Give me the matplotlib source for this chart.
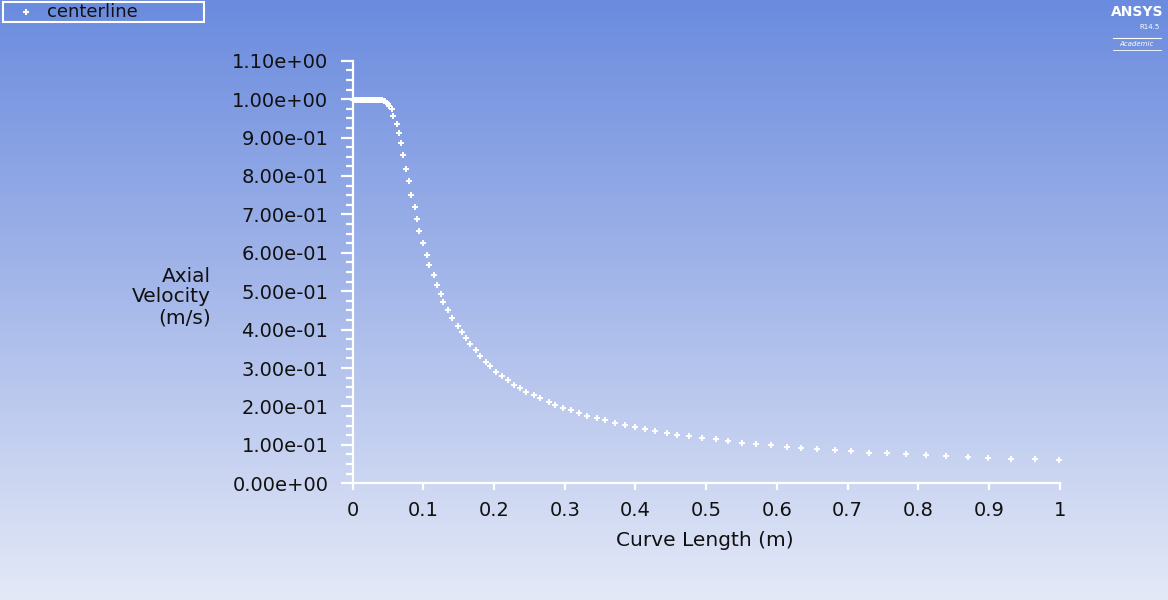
import numpy as np
import matplotlib
matplotlib.use("Agg")
import matplotlib.pyplot as plt
from matplotlib.patches import Rectangle
from matplotlib.colors import LinearSegmentedColormap
from matplotlib.ticker import MultipleLocator, FormatStrFormatter

plt.rcParams["font.family"] = ["DejaVu Sans"]

# centerline data
curve_length = [
    0.000, 0.002, 0.004, 0.006, 0.008, 0.010, 0.012, 0.014, 0.016, 0.018,
    0.020, 0.022, 0.024, 0.026, 0.028, 0.030, 0.032, 0.034, 0.036, 0.038,
    0.040, 0.042, 0.044, 0.046, 0.048, 0.050, 0.052, 0.055,
    0.0574, 0.0631, 0.0659, 0.0687, 0.0716, 0.0747, 0.0801, 0.0829, 0.0888, 0.0914,
    0.0942, 0.1001, 0.1055, 0.1083, 0.1143, 0.1197, 0.1253, 0.1281, 0.1344, 0.1400,
    0.1485, 0.1542, 0.1598, 0.1655, 0.1744, 0.1801, 0.1885, 0.1942, 0.2027, 0.2112,
    0.2197, 0.2286, 0.2371, 0.2455, 0.2569, 0.2653, 0.2772, 0.2857, 0.2970, 0.3083,
    0.3197, 0.3310, 0.3451, 0.3569, 0.3710, 0.3851, 0.3993, 0.4134, 0.4276, 0.4450,
    0.4594, 0.4761, 0.4936, 0.5139, 0.5313, 0.5511, 0.5704, 0.5912, 0.6139, 0.6337,
    0.6563, 0.6822, 0.7048, 0.7303, 0.7562, 0.7822, 0.8105, 0.8392, 0.8707, 0.8990,
    0.9307, 0.9651, 0.9994,
]
axial_velocity = [
    0.998, 0.998, 0.998, 0.998, 0.998, 0.998, 0.998, 0.998, 0.998, 0.998,
    0.998, 0.998, 0.998, 0.998, 0.998, 0.998, 0.998, 0.998, 0.998, 0.998,
    0.998, 0.997, 0.996, 0.994, 0.991, 0.987, 0.982, 0.974,
    0.957, 0.936, 0.912, 0.886, 0.855, 0.818, 0.786, 0.751, 0.718, 0.688,
    0.656, 0.625, 0.594, 0.567, 0.541, 0.515, 0.494, 0.472, 0.452, 0.431,
    0.409, 0.394, 0.378, 0.362, 0.346, 0.331, 0.315, 0.305, 0.290, 0.279,
    0.268, 0.257, 0.247, 0.237, 0.230, 0.221, 0.211, 0.205, 0.196, 0.190,
    0.184, 0.175, 0.169, 0.164, 0.157, 0.152, 0.147, 0.142, 0.137, 0.132,
    0.127, 0.122, 0.118, 0.115, 0.111, 0.106, 0.102, 0.099, 0.095, 0.092,
    0.089, 0.086, 0.083, 0.080, 0.078, 0.075, 0.073, 0.070, 0.068, 0.066,
    0.064, 0.062, 0.060,
]

W, H = 1168, 600
fig = plt.figure(figsize=(W / 100, H / 100), dpi=100)

# background gradient + decorations in pixel coordinates
bg = fig.add_axes([0, 0, 1, 1])
cmap = LinearSegmentedColormap.from_list("bg", ["#6a8bde", "#a7b9ea", "#e4e9f7"])
grad = np.linspace(0, 1, 256).reshape(-1, 1)
bg.imshow(grad, cmap=cmap, aspect="auto", extent=[0, W, H, 0])
bg.set_xlim(0, W)
bg.set_ylim(H, 0)
bg.axis("off")

# legend box
bg.add_patch(Rectangle((3, 2), 201, 20, fill=False, edgecolor="white", linewidth=1.5))
bg.plot([26], [12], marker="+", color="white", markersize=4.5, markeredgewidth=1.5)
bg.text(47, 12, "centerline", fontsize=13, color="#111111", va="center", ha="left")

# logo
bg.text(1137, 12, "ANSYS", fontsize=10, fontweight="bold", color="white", ha="center", va="center")
bg.text(1150, 27, "R14.5", fontsize=5, color="white", ha="center", va="center")
bg.text(1137, 44, "Academic", fontsize=5, color="white", ha="center", va="center", style="italic")
bg.plot([1113, 1161], [38, 38], color="white", linewidth=0.8)
bg.plot([1113, 1161], [50, 50], color="white", linewidth=0.6)

# axis labels
bg.text(211, 297, "Axial\nVelocity\n(m/s)", fontsize=14.5, color="#111111", ha="right",
        va="center", multialignment="right", linespacing=1.1)
bg.text(705, 541, "Curve Length (m)", fontsize=14.5, color="#111111", ha="center", va="center")

# main plot
ax = fig.add_axes([352.7 / W, 1 - 483.3 / H, 707 / W, 422.6 / H])
ax.patch.set_alpha(0)
ax.plot(curve_length, axial_velocity, linestyle="none", marker="+", color="white",
        markersize=4.8, markeredgewidth=1.4, clip_on=False)

ax.set_xlim(0, 1)
ax.set_ylim(0, 1.1)
for side in ["top", "right"]:
    ax.spines[side].set_visible(False)
for side in ["left", "bottom"]:
    ax.spines[side].set_color("white")
    ax.spines[side].set_linewidth(1.6)

ax.xaxis.set_major_locator(MultipleLocator(0.1))
ax.xaxis.set_major_formatter(lambda v, p: f"{v:g}")
ax.yaxis.set_major_locator(MultipleLocator(0.1))
ax.yaxis.set_minor_locator(MultipleLocator(0.025))
ax.yaxis.set_major_formatter(FormatStrFormatter("%.2e"))

ax.tick_params(axis="x", which="major", direction="out", length=5, width=1.6,
               color="white", labelsize=14, labelcolor="#111111", pad=8)
ax.tick_params(axis="y", which="major", direction="out", length=8.6, width=1.6,
               color="white", labelsize=14, labelcolor="#111111", pad=9)
ax.tick_params(axis="y", which="minor", direction="out", length=5, width=1.6, color="white")

fig.savefig("out.png", dpi=100)
